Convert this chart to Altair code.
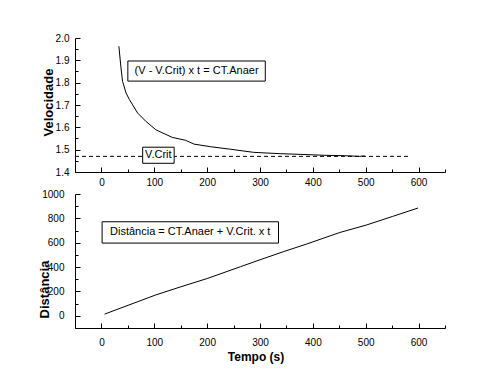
import altair as alt
import pandas as pd

# ---------------- data ----------------
# Top panel: Velocidade vs Tempo
t_vel = [33, 37, 40, 46.5, 53, 68.5, 84, 103, 134, 159, 175, 207, 244, 288, 338, 376, 419, 460, 488, 498]
v_vel = [1.963, 1.866, 1.806, 1.754, 1.724, 1.664, 1.627, 1.589, 1.555, 1.542, 1.525, 1.513,
         1.502, 1.488, 1.482, 1.479, 1.475, 1.473, 1.470, 1.472]
v_crit = 1.47
v_crit_t = [-50, 583]

# Bottom panel: Distância vs Tempo
t_dist = [6, 102, 150, 200, 263, 300, 344, 388, 451, 501, 551, 599]
d_dist = [14, 170, 238, 306, 403, 460, 526, 589, 684, 745, 816, 885]

# tick values (major ones get labels, minor ones are short unlabeled ticks)
x_major = [0, 100, 200, 300, 400, 500, 600]
x_minor = [-50, 50, 150, 250, 350, 450, 550, 650]
vel_major = [1.4, 1.5, 1.6, 1.7, 1.8, 1.9, 2.0]
vel_minor = [1.45, 1.55, 1.65, 1.75, 1.85, 1.95]
dist_major = [0, 200, 400, 600, 800, 1000]
dist_minor = [-100, 100, 300, 500, 700, 900]

# annotation texts
txt_top = "(V - V.Crit) x t = CT.Anaer"
txt_crit = "V.Crit"
txt_bot = "Distância = CT.Anaer + V.Crit. x t"

# ---------------- layout ----------------
W = 370
H = 134
FONT = "Liberation Sans"

xscale = alt.Scale(domain=[-50, 650], nice=False, zero=False)
vscale = alt.Scale(domain=[1.4, 2.0], nice=False, zero=False)
dscale = alt.Scale(domain=[-100, 1000], nice=False, zero=False)

# tests telling major ticks from minor ones
x_is_major = "datum.value % 100 === 0"
v_is_major = "abs(datum.value * 10 - round(datum.value * 10)) < 1e-6"
d_is_major = "datum.value % 200 === 0"


def inward(test):
    # inward ticks: major 5px, minor 3px
    return alt.ExprRef(expr=f"({test}) ? -5 : -3")


def only_major(test):
    return f"({test}) ? datum.label : ''"


common_axis = dict(ticks=True, tickColor="black", tickWidth=1, grid=False,
                   domainColor="black", domainWidth=1, labelColor="black",
                   labelFont=FONT, labelFontSize=10, labelOverlap=False,
                   labelFlush=False, titleFont=FONT, titleColor="black",
                   titleFontWeight="bold")

ax_x_top = alt.Axis(values=sorted(x_major + x_minor), format="d", title=None,
                    tickSize=inward(x_is_major), labelExpr=only_major(x_is_major),
                    labelPadding=10, **common_axis)
ax_v = alt.Axis(values=sorted(vel_major + vel_minor), format=".1f", title="Velocidade",
                tickSize=inward(v_is_major), labelExpr=only_major(v_is_major),
                labelPadding=11, titleFontSize=13, titleX=-22.7, titleY=64, titleAngle=270,
                titleAlign="center", titleBaseline="alphabetic", **common_axis)
ax_x_bot = alt.Axis(values=sorted(x_major + x_minor), format="d", title="Tempo (s)",
                    tickSize=inward(x_is_major), labelExpr=only_major(x_is_major),
                    labelPadding=14, titleFontSize=12, titleX=180.5, titleY=32.4,
                    titleAlign="center", titleBaseline="alphabetic", **common_axis)
ax_d = alt.Axis(values=sorted(dist_major + dist_minor), format="d", title="Distância",
                tickSize=inward(d_is_major), labelExpr=only_major(d_is_major),
                labelPadding=16, titleFontSize=13, titleX=-27, titleY=95, titleAngle=270,
                titleAlign="center", titleBaseline="alphabetic", **common_axis)

df_vel = pd.DataFrame({"t": t_vel, "v": v_vel})
df_dist = pd.DataFrame({"t": t_dist, "v": d_dist})

# ---------------- top panel ----------------
curve = alt.Chart(df_vel).mark_line(color="black", strokeWidth=1).encode(
    x=alt.X("t:Q", scale=xscale, axis=ax_x_top),
    y=alt.Y("v:Q", scale=vscale, axis=ax_v))

crit_line = alt.Chart(pd.DataFrame({"t": [v_crit_t[0]], "t2": [v_crit_t[1]], "v": [v_crit]})).mark_rule(
    color="black", strokeDash=[4, 3], strokeWidth=1).encode(
    x=alt.X("t:Q", scale=xscale, axis=ax_x_top), x2="t2:Q",
    y=alt.Y("v:Q", scale=vscale, axis=ax_v))

box_top = pd.DataFrame({"t": [50, 78], "t2": [310, 137.6], "v": [1.807, 1.439], "v2": [1.897, 1.511]})
rect_top = alt.Chart(box_top).mark_rect(fill="white", stroke="black", strokeWidth=1).encode(
    x=alt.X("t:Q", scale=xscale, axis=ax_x_top), x2="t2:Q",
    y=alt.Y("v:Q", scale=vscale, axis=ax_v), y2="v2:Q")

lab_top = pd.DataFrame({"t": [180, 107.7], "v": [1.852, 1.475], "s": [txt_top, txt_crit]})
text_top = alt.Chart(lab_top).mark_text(font=FONT, fontSize=11, color="black",
                                        align="center", baseline="middle").encode(
    x=alt.X("t:Q", scale=xscale, axis=ax_x_top),
    y=alt.Y("v:Q", scale=vscale, axis=ax_v), text="s:N")

top = alt.layer(curve, crit_line, rect_top, text_top).properties(width=W, height=H)

# ---------------- bottom panel ----------------
dline = alt.Chart(df_dist).mark_line(color="black", strokeWidth=1).encode(
    x=alt.X("t:Q", scale=xscale, axis=ax_x_bot),
    y=alt.Y("v:Q", scale=dscale, axis=ax_d))

box_bot = pd.DataFrame({"t": [1.3], "t2": [335], "v": [597], "v2": [772]})
rect_bot = alt.Chart(box_bot).mark_rect(fill="white", stroke="black", strokeWidth=1).encode(
    x=alt.X("t:Q", scale=xscale, axis=ax_x_bot), x2="t2:Q",
    y=alt.Y("v:Q", scale=dscale, axis=ax_d), y2="v2:Q")

lab_bot = pd.DataFrame({"t": [168], "v": [684], "s": [txt_bot]})
text_bot = alt.Chart(lab_bot).mark_text(font=FONT, fontSize=11, color="black",
                                        align="center", baseline="middle").encode(
    x=alt.X("t:Q", scale=xscale, axis=ax_x_bot),
    y=alt.Y("v:Q", scale=dscale, axis=ax_d), text="s:N")

bottom = alt.layer(dline, rect_bot, text_bot).properties(width=W, height=H)

chart = alt.vconcat(top, bottom, spacing=0).properties(
    padding={"left": 30, "top": 25, "right": 5, "bottom": 5},
    background="white",
).configure_view(stroke=None)

chart.save("out.html", embed_options={"renderer": "svg", "actions": False})
